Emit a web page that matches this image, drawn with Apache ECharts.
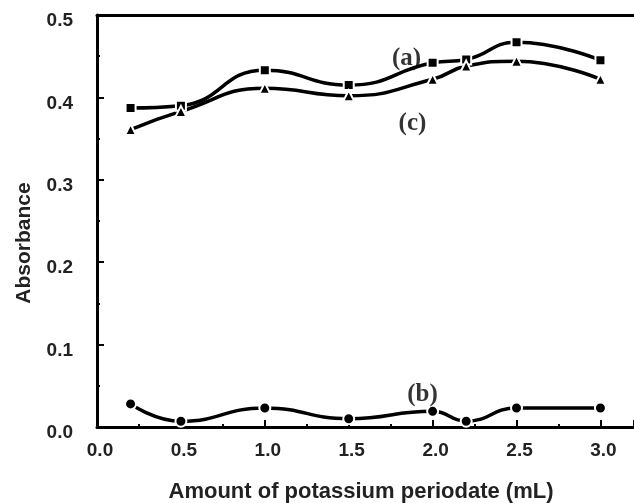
<!DOCTYPE html>
<html>
<head>
<meta charset="utf-8">
<script src="https://cdn.jsdelivr.net/npm/echarts@6/dist/echarts.min.js"></script>
<style>
html,body{margin:0;padding:0;background:#fff;}
#chart{width:634px;height:503px;}
</style>
</head>
<body>
<div id="chart"></div>
<script>
// Data
var xValues = [0.2, 0.5, 1.0, 1.5, 2.0, 2.2, 2.5, 3.0];
var seriesA = [0.387, 0.390, 0.433, 0.415, 0.442, 0.446, 0.467, 0.445]; // squares
var seriesC = [0.361, 0.383, 0.411, 0.402, 0.422, 0.438, 0.444, 0.422]; // triangles
var seriesB = [0.028, 0.007, 0.023, 0.010, 0.019, 0.007, 0.023, 0.023]; // circles
var yTicks = [0.0, 0.1, 0.2, 0.3, 0.4, 0.5];
var xTicks = [0.0, 0.5, 1.0, 1.5, 2.0, 2.5, 3.0];
var annotNames = ['(a)', '(b)', '(c)'];
var annotX = [1.845, 1.94, 1.88];
var annotY = [0.447, 0.039, 0.368];

function pairs(xs, ys) { return xs.map(function (x, i) { return [x, ys[i]]; }); }

var chart = echarts.init(document.getElementById('chart'));
var txtColor = '#222';
var fontFam = '"Liberation Sans", Arial, sans-serif';

function lineSeries(name, ys, sym, size) {
  return {
    name: name,
    type: 'line',
    data: pairs(xValues, ys),
    smooth: 0.5,
    symbol: sym,
    symbolSize: size,
    showAllSymbol: true,
    lineStyle: { color: '#000', width: 3.5 },
    itemStyle: { color: '#000', borderColor: '#fff', borderWidth: 2 },
    z: 3
  };
}

var annotSeries = {
  type: 'scatter',
  data: annotNames.map(function (n, i) { return { value: [annotX[i], annotY[i]], name: n }; }),
  symbolSize: 0,
  label: {
    show: true,
    position: 'inside',
    formatter: function (p) { return p.name; },
    fontFamily: '"Liberation Serif", "Times New Roman", serif',
    fontWeight: 'bold',
    fontSize: 25,
    color: '#000'
  },
  z: 5,
  silent: true
};

chart.setOption({
  animation: false,
  backgroundColor: '#fff',
  grid: { left: 97, top: 15, right: 0, bottom: 76, containLabel: false, outerBoundsMode: 'none' },
  xAxis: [{
    type: 'value',
    min: 0, max: 3.2, interval: 0.5,
    axisLine: { show: true, lineStyle: { color: '#000', width: 3 } },
    axisTick: { show: true, inside: true, length: 7, lineStyle: { color: '#000', width: 2 } },
    minorTick: { show: true, splitNumber: 2, length: 3, lineStyle: { color: '#000', width: 2 } },
    splitLine: { show: false },
    axisLabel: {
      showMaxLabel: false,
      margin: 14,
      padding: [0, 0, 0, 6],
      color: txtColor, fontFamily: fontFam, fontWeight: 'bold', fontSize: 19,
      formatter: function (v) { return xTicks.indexOf(Math.round(v * 10) / 10) >= 0 ? v.toFixed(1) : ''; }
    },
    name: 'Amount of potassium periodate (mL)',
    nameLocation: 'middle',
    nameGap: 54,
    nameTextStyle: { color: txtColor, fontFamily: fontFam, fontWeight: 'bold', fontSize: 22, padding: [0, 9, 0, 0] }
  }, {
    type: 'value', position: 'top', min: 0, max: 3.2,
    axisLine: { show: true, lineStyle: { color: '#000', width: 3 } },
    axisTick: { show: false }, axisLabel: { show: false }, splitLine: { show: false }
  }],
  yAxis: {
    type: 'value',
    min: 0, max: 0.5, interval: 0.1,
    axisLine: { show: true, lineStyle: { color: '#000', width: 3 } },
    axisTick: { show: true, inside: true, length: 7, lineStyle: { color: '#000', width: 2 } },
    minorTick: { show: true, splitNumber: 2, length: 3, lineStyle: { color: '#000', width: 2 } },
    splitLine: { show: false },
    axisLabel: {
      margin: 24,
      verticalAlign: 'top',
      lineHeight: 12,
      color: txtColor, fontFamily: fontFam, fontWeight: 'bold', fontSize: 19,
      formatter: function (v) { return yTicks.indexOf(Math.round(v * 10) / 10) >= 0 ? v.toFixed(1) : ''; }
    },
    name: 'Absorbance',
    nameLocation: 'middle',
    nameGap: 62,
    nameTextStyle: { color: txtColor, fontFamily: fontFam, fontWeight: 'bold', fontSize: 21, padding: [0, 0, 0, -44] }
  },
  series: [
    lineSeries('(a)', seriesA, 'rect', 10),
    lineSeries('(c)', seriesC, 'triangle', 11),
    lineSeries('(b)', seriesB, 'circle', 11),
    annotSeries
  ]
});
</script>
</body>
</html>
